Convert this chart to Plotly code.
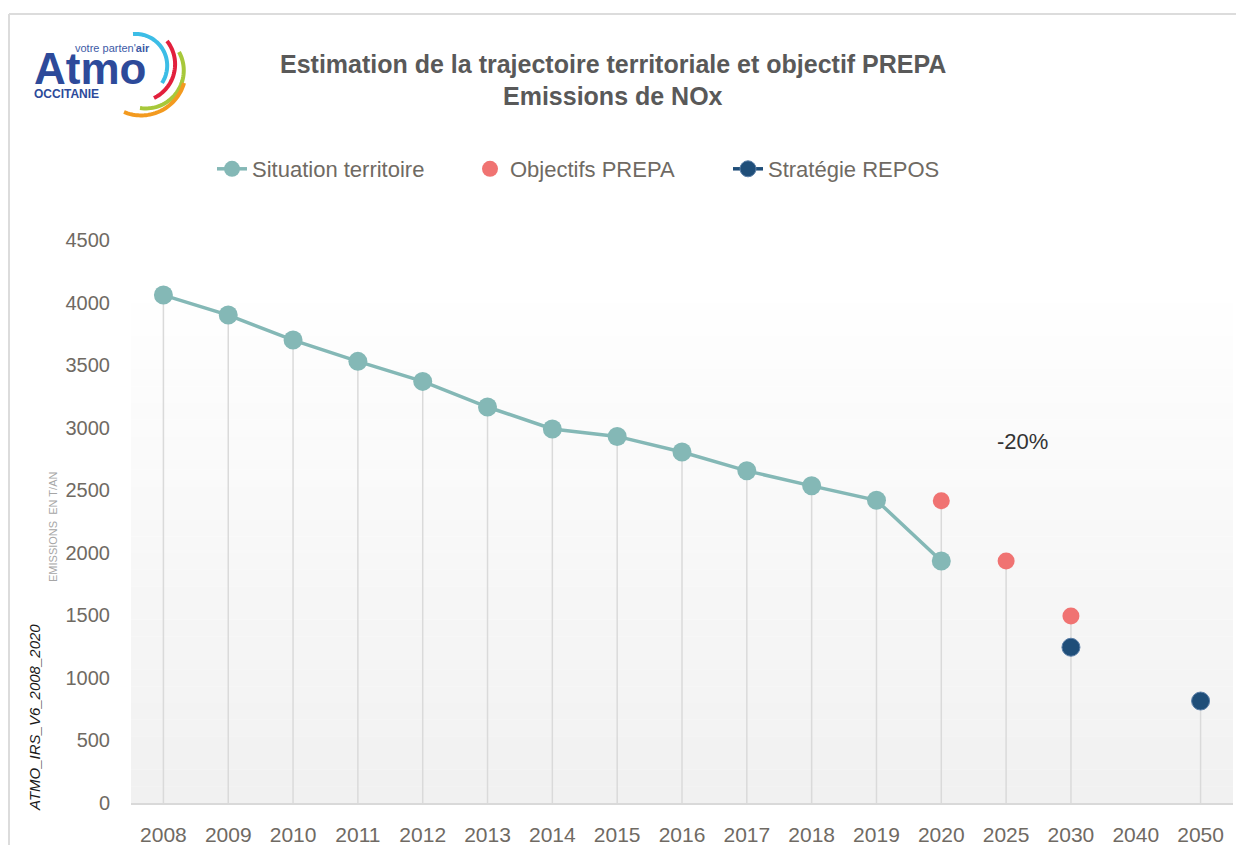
import math
import plotly.graph_objects as go

# categories (x axis) and series values
years = ["2008", "2009", "2010", "2011", "2012", "2013", "2014", "2015", "2016",
         "2017", "2018", "2019", "2020", "2025", "2030", "2040", "2050"]
situation = [4060, 3900, 3700, 3530, 3370, 3165, 2990, 2930, 2805, 2655, 2535, 2420, 1935,
             None, None, None, None]
prepa = [None] * 12 + [2415, 1935, 1495, None, None]
repos = [None] * 14 + [1245, None, 815]
y_ticks = [0, 500, 1000, 1500, 2000, 2500, 3000, 3500, 4000, 4500]

# the page has an 8px body margin, so the figure is a bit smaller than the window
OFF = 8
W, H = 1244 - OFF, 845 - OFF
# plot area, in window pixels
L, R, T, B = 131, 1233, 240, 803


def px_x(px):
    return (px - L) / (R - L)


def px_y(py):
    return (B - py) / (B - T)


TEAL = "#84b8b6"
SALMON = "#f07372"
NAVY = "#1f4e79"
GREY_TXT = "#6f6a63"
NARROW = "Liberation Sans Narrow, Arial Narrow, Liberation Sans, Arial, sans-serif"

fig = go.Figure()

# drop lines from the highest point of each category down to the axis
drop_x, drop_y = [], []
for i, yr in enumerate(years):
    vals = [v for v in (situation[i], prepa[i], repos[i]) if v is not None]
    if vals:
        drop_x += [yr, yr, None]
        drop_y += [0, max(vals), None]
fig.add_trace(go.Scatter(
    x=drop_x, y=drop_y, mode="lines",
    line=dict(color="#dadada", width=1.5),
    showlegend=False, hoverinfo="skip"
))

fig.add_trace(go.Scatter(
    x=years, y=situation, name="Situation territoire",
    mode="lines+markers",
    line=dict(color=TEAL, width=3.5),
    marker=dict(color=TEAL, size=19),
))
fig.add_trace(go.Scatter(
    x=years, y=prepa, name="Objectifs PREPA",
    mode="markers",
    marker=dict(color=SALMON, size=17),
))
fig.add_trace(go.Scatter(
    x=years, y=repos, name="Stratégie REPOS",
    mode="lines+markers", connectgaps=False,
    line=dict(color=NAVY, width=3.5),
    marker=dict(color=NAVY, size=18, line=dict(color="#5b7fa8", width=1)),
))

shapes = []
# soft vertical gradient behind the plot
n_bands = 30
top_px, c_top, c_bot = 303, 254, 241
for k in range(n_bands):
    y0 = top_px + (B - top_px) * k / n_bands
    y1 = top_px + (B - top_px) * (k + 1) / n_bands
    c = round(c_top + (c_bot - c_top) * k / (n_bands - 1))
    shapes.append(dict(
        type="rect", xref="paper", yref="paper", layer="below",
        x0=0, x1=1, y0=px_y(y1), y1=px_y(y0),
        fillcolor=f"rgb({c},{c},{c})", line=dict(width=0)
    ))

# page frame (top and left edges)
shapes.append(dict(type="line", xref="paper", yref="paper",
                   x0=px_x(9), x1=px_x(1244), y0=px_y(14), y1=px_y(14),
                   line=dict(color="#dcdcdc", width=2)))
shapes.append(dict(type="line", xref="paper", yref="paper",
                   x0=px_x(9), x1=px_x(9), y0=px_y(14), y1=px_y(845),
                   line=dict(color="#dcdcdc", width=2)))


# logo arcs, each through three points (pixel coords)
def arc_path(p0, p1, p2, n=40):
    (ax, ay), (bx, by), (cx, cy) = p0, p1, p2
    d = 2 * (ax * (by - cy) + bx * (cy - ay) + cx * (ay - by))
    ux = ((ax**2 + ay**2) * (by - cy) + (bx**2 + by**2) * (cy - ay) + (cx**2 + cy**2) * (ay - by)) / d
    uy = ((ax**2 + ay**2) * (cx - bx) + (bx**2 + by**2) * (ax - cx) + (cx**2 + cy**2) * (bx - ax)) / d
    r = math.hypot(ax - ux, ay - uy)
    a0 = math.atan2(ay - uy, ax - ux)
    a1 = math.atan2(by - uy, bx - ux)
    a2 = math.atan2(cy - uy, cx - ux)
    # sweep direction going through the middle point
    sweep = (a2 - a0) % (2 * math.pi)
    mid = (a1 - a0) % (2 * math.pi)
    if mid > sweep:
        sweep -= 2 * math.pi
    pts = []
    for k in range(n + 1):
        a = a0 + sweep * k / n
        pts.append((px_x(ux + r * math.cos(a)), px_y(uy + r * math.sin(a))))
    return "M " + " L ".join(f"{x:.5f},{y:.5f}" for x, y in pts)


logo_arcs = [
    ("#3cbde6", (133, 34), (166, 57), (162, 83)),
    ("#e2203d", (167, 41), (175, 67), (154, 98)),
    ("#a7c83a", (179, 52), (183, 78), (140, 108)),
    ("#f39a1f", (184, 83), (172, 103), (124, 112)),
]
for col, a, b, c in logo_arcs:
    shapes.append(dict(type="path", xref="paper", yref="paper",
                       path=arc_path(a, b, c), line=dict(color=col, width=4)))

annotations = [
    # logo text
    dict(text="votre parten'<b>air</b>", x=px_x(112), y=px_y(48),
         font=dict(family="Liberation Sans, Arial", size=11, color="#3d5aa6")),
    dict(text="<b>Atmo</b>", x=px_x(90), y=px_y(68),
         font=dict(family="Liberation Sans, Arial", size=44, color="#2d4a9a")),
    dict(text="<b>OCCITANIE</b>", x=px_x(66), y=px_y(94),
         font=dict(family="Liberation Sans, Arial", size=12, color="#2d4a9a")),
    # title
    dict(text="<b>Estimation de la trajectoire territoriale et objectif PREPA</b>",
         x=px_x(613), y=px_y(64),
         font=dict(family=NARROW, size=25, color="#595959")),
    dict(text="<b>Emissions de NOx</b>", x=px_x(613), y=px_y(96),
         font=dict(family=NARROW, size=25, color="#595959")),
    # axis title and source code
    dict(text="EMISSIONS  EN T/AN", x=px_x(53), y=px_y(527), textangle=-90,
         font=dict(family=NARROW, size=11, color="#a6a6a6")),
    dict(text="<i>ATMO_IRS_V6_2008_2020</i>", x=px_x(34), y=px_y(718), textangle=-90,
         font=dict(family=NARROW, size=15, color="#1a1a1a")),
    # reduction label
    dict(text="-20%", x=13.25, xref="x", y=px_y(441), yref="paper",
         font=dict(family=NARROW, size=22, color="#333333")),
]
for a in annotations:
    a.setdefault("xref", "paper")
    a.setdefault("yref", "paper")
    a["showarrow"] = False
    a.setdefault("xanchor", "center")
    a.setdefault("yanchor", "middle")

fig.update_layout(
    width=W, height=H,
    margin=dict(l=L - OFF, r=1244 - R, t=T - OFF, b=845 - B, autoexpand=False),
    paper_bgcolor="white",
    plot_bgcolor="rgba(0,0,0,0)",
    showlegend=True,
    legend=dict(
        orientation="h", x=px_x(212), xanchor="left",
        y=px_y(169), yanchor="middle",
        font=dict(family=NARROW, size=22, color=GREY_TXT),
        entrywidth=213, itemwidth=30, bgcolor="rgba(0,0,0,0)",
    ),
    xaxis=dict(
        type="category", categoryorder="array", categoryarray=years,
        range=[-0.5, len(years) - 0.5],
        showgrid=False, zeroline=False,
        showline=True, linecolor="#d9d9d9", linewidth=1.5,
        ticks="", ticklabelstandoff=12,
        tickfont=dict(family=NARROW, size=21, color=GREY_TXT),
        fixedrange=True,
    ),
    yaxis=dict(
        range=[0, 4500], tickvals=y_ticks,
        showgrid=False, zeroline=False, showline=False,
        ticks="", ticklabelstandoff=20,
        tickfont=dict(family=NARROW, size=20, color=GREY_TXT),
        fixedrange=True,
    ),
    shapes=shapes,
    annotations=annotations,
)

fig.write_html("out.html")
